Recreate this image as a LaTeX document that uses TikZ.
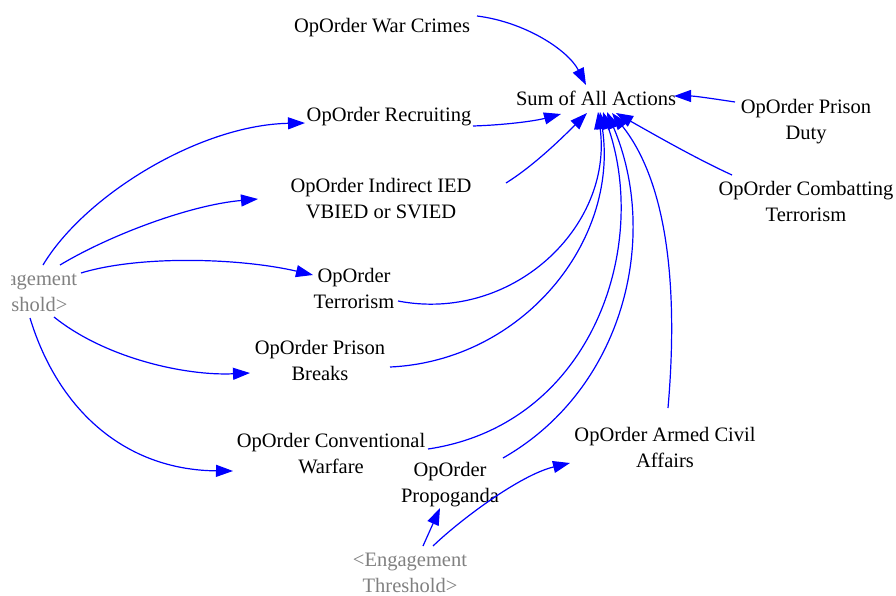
\documentclass[tikz,border=0pt]{standalone}
\usepackage{fontspec}
\setmainfont{LiberationSerif}[Extension=.ttf,UprightFont=*-Regular,BoldFont=*-Bold,ItalicFont=*-Italic]
\usetikzlibrary{arrows.meta}
\definecolor{linkblue}{RGB}{0,0,255}
\definecolor{shadowgray}{RGB}{128,128,128}
\begin{document}
\begin{tikzpicture}[x=1pt,y=-1pt,
  var/.style={font=\fontsize{20.5}{26}\selectfont, align=center, inner sep=0pt, text=black},
  shadowvar/.style={var, text=shadowgray},
  link/.style={draw=linkblue, line width=1.2pt, -{Triangle[length=17pt,width=12pt]}}]
\useasboundingbox (0,0) rectangle (896,596);
% variables
\node[var] (war) at (382,28) {OpOrder War Crimes};
\node[var] (sum) at (596,98) {Sum of All Actions};
\node[var] (recruit) at (389,117) {OpOrder Recruiting};
\node[var] (ied) at (381,199) {OpOrder Indirect IED\\VBIED or SVIED};
\node[var] (pduty) at (806,122) {OpOrder Prison\\Duty};
\node[var] (combat) at (806,201) {OpOrder Combatting\\Terrorism};
\node[var] (terror) at (354,288) {OpOrder\\Terrorism};
\node[var] (pbreaks) at (320,360) {OpOrder Prison\\Breaks};
\node[var] (conv) at (331,454) {OpOrder Conventional\\Warfare};
\node[var] (prop) at (450,485) {OpOrder\\Propoganda};
\node[var] (armed) at (665,447) {OpOrder Armed Civil\\Affairs};
\begin{scope}
  \clip (11,0) rectangle (896,596);
  \node[shadowvar] (engL) at (20,292) {<Engagement\\Threshold>};
\end{scope}
\node[shadowvar] (engB) at (410,573) {<Engagement\\Threshold>};
% links into Sum of All Actions
\draw[link] ([shift={(95,-12)}]war.center) .. controls +(48,6) and +(-18,-35) .. ([shift={(-10,-13)}]sum.center);
\draw[link] ([shift={(84,9)}]recruit.center) .. controls +(32,-1) and +(-26,7) .. ([shift={(-35,16)}]sum.center);
\draw[link] ([shift={(125,-16)}]ied.center) .. controls +(29,-18) and +(-22,22) .. ([shift={(-9,15)}]sum.center);
\draw[link] ([shift={(44,13)}]terror.center) .. controls +(114,22) and +(15,115) .. ([shift={(2,14)}]sum.center);
\draw[link] ([shift={(70,7)}]pbreaks.center) .. controls +(132,-6) and +(19,130) .. ([shift={(4,14)}]sum.center);
\draw[link] ([shift={(97,-5)}]conv.center) .. controls +(162,-24) and +(47,138) .. ([shift={(7,14)}]sum.center);
\draw[link] ([shift={(53,-27)}]prop.center) .. controls +(121,-69) and +(53,125) .. ([shift={(11,14)}]sum.center);
\draw[link] ([shift={(3,-39)}]armed.center) .. controls +(10,-115) and +(57,72) .. ([shift={(16,15)}]sum.center);
\draw[link] ([shift={(-74,-26)}]combat.center) .. controls +(-37,-17) and +(39,22) .. ([shift={(20,15)}]sum.center);
\draw[link] ([shift={(-71,-20)}]pduty.center) .. controls +(-20,-3) and +(21,0) .. ([shift={(78,-2)}]sum.center);
% links from left Engagement Threshold
\draw[link] ([shift={(23,-27)}]engL.center) .. controls +(42,-70) and +(-105,2) .. ([shift={(-84,6)}]recruit.center);
\draw[link] ([shift={(40,-27)}]engL.center) .. controls +(50,-30) and +(-68,6) .. ([shift={(-123,0)}]ied.center);
\draw[link] ([shift={(61,-19)}]engL.center) .. controls +(59,-18) and +(-73,-17) .. ([shift={(-41,-13)}]terror.center);
\draw[link] ([shift={(34,25)}]engL.center) .. controls +(51,41) and +(-65,3) .. ([shift={(-70,13)}]pbreaks.center);
\draw[link] ([shift={(10,26)}]engL.center) .. controls +(28,92) and +(-108,-1) .. ([shift={(-98,17)}]conv.center);
% links from bottom Engagement Threshold
\draw[link] ([shift={(13,-27)}]engB.center) -- ([shift={(-10,23)}]prop.center);
\draw[link] ([shift={(23,-27)}]engB.center) .. controls +(27,-26) and +(-50,12) .. ([shift={(-95,16)}]armed.center);
\end{tikzpicture}
\end{document}
